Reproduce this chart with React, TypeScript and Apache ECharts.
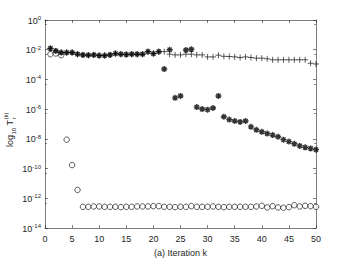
import React, { useEffect, useRef } from 'react';
import * as echarts from 'echarts';

const iterations = [
  1, 2, 3, 4, 5, 6, 7, 8, 9, 10, 11, 12, 13, 14, 15, 16, 17, 18, 19, 20, 21, 22, 23, 24, 25,
  26, 27, 28, 29, 30, 31, 32, 33, 34, 35, 36, 37, 38, 39, 40, 41, 42, 43, 44, 45, 46, 47, 48, 49, 50,
];

const circleValues = [
  5.0e-3, 5.6e-3, 4.3e-3, 8.9e-9, 1.74e-10, 3.7e-12,
  2.7e-13, 2.7e-13, 2.86e-13, 2.86e-13, 2.7e-13, 2.7e-13, 2.7e-13, 2.57e-13, 2.7e-13, 2.7e-13,
  2.86e-13, 2.86e-13, 2.86e-13, 3.0e-13, 3.0e-13, 2.7e-13, 2.7e-13, 2.57e-13, 2.7e-13, 2.7e-13,
  3.0e-13, 2.7e-13, 2.7e-13, 2.7e-13, 2.86e-13, 2.7e-13, 2.57e-13, 2.7e-13, 2.7e-13, 2.7e-13,
  2.7e-13, 2.7e-13, 2.86e-13, 3.16e-13, 2.45e-13, 3.0e-13, 2.45e-13, 2.34e-13, 2.57e-13, 3.47e-13,
  2.86e-13, 3.16e-13, 3.0e-13, 2.7e-13,
];

const starValues = [
  1.23e-2, 8.3e-3, 6.5e-3, 6.5e-3, 6.5e-3, 5.0e-3, 4.5e-3, 4.3e-3, 4.5e-3, 4.1e-3,
  4.1e-3, 4.5e-3, 5.5e-3, 5.0e-3, 4.8e-3, 5.0e-3, 5.0e-3, 5.0e-3, 7.4e-3, 5.5e-3,
  7.4e-3, 5.0e-4, 1.0e-2, 5.8e-6, 7.8e-6, 9.5e-3, 1.07e-2, 1.38e-6, 1.02e-6, 9.3e-7,
  1.2e-6, 7.8e-6, 3.1e-7, 2.0e-7, 1.6e-7, 1.4e-7, 1.6e-7, 6.5e-8, 4.1e-8, 3.0e-8,
  2.3e-8, 1.8e-8, 1.4e-8, 8.9e-9, 6.6e-9, 4.7e-9, 3.4e-9, 2.7e-9, 2.3e-9, 1.9e-9,
];

const plusValues = [
  1.23e-2, 8.3e-3, 6.5e-3, 6.5e-3, 6.5e-3, 5.0e-3, 4.5e-3, 4.3e-3, 4.5e-3, 4.1e-3,
  4.1e-3, 4.5e-3, 5.5e-3, 5.0e-3, 4.8e-3, 5.0e-3, 5.0e-3, 5.0e-3, 7.4e-3, 5.5e-3,
  7.4e-3, 7.4e-3, 5.0e-3, 4.5e-3, 4.5e-3, 5.0e-3, 5.0e-3, 4.5e-3, 4.5e-3, 3.3e-3,
  3.3e-3, 4.3e-3, 3.6e-3, 3.5e-3, 3.3e-3, 3.0e-3, 3.3e-3, 3.0e-3, 2.7e-3, 2.7e-3,
  2.45e-3, 2.1e-3, 2.1e-3, 2.1e-3, 2.1e-3, 2.1e-3, 2.1e-3, 2.1e-3, 1.23e-3, 1.1e-3,
];

const xLabel = '(a) Iteration k';

const FONT = '"Liberation Sans", Arial, Helvetica, sans-serif';
const INK = '#262626';

const asteriskPath =
  'path://M5,0L5,10M0,5L10,5M1.5,1.5L8.5,8.5M1.5,8.5L8.5,1.5';
const plusPath = 'path://M5,0L5,10M0,5L10,5';

export default function App() {
  const ref = useRef<HTMLDivElement>(null);

  useEffect(() => {
    if (!ref.current) return;
    const chart = echarts.init(ref.current, null, { renderer: 'svg' });

    const toPairs = (vals: number[]) => iterations.map((k, i) => [k, vals[i]]);

    const xAxisBase = {
      type: 'value',
      min: 0,
      max: 50,
      interval: 5,
      splitLine: { show: false },
      axisLine: { show: true, onZero: false, lineStyle: { color: INK, width: 0.6 } },
      axisTick: { show: true, inside: true, length: 3, lineStyle: { color: INK, width: 0.6 } },
    };
    const yAxisBase = {
      type: 'log',
      logBase: 10,
      min: 1e-14,
      max: 1,
      interval: 2,
      splitLine: { show: false },
      axisLine: { show: true, onZero: false, lineStyle: { color: INK, width: 0.6 } },
      axisTick: { show: true, inside: true, length: 3, lineStyle: { color: INK, width: 0.6 } },
      minorTick: { show: true, splitNumber: 2, length: 2, lineStyle: { color: INK, width: 0.5 } },
    };

    chart.setOption({
      animation: false,
      backgroundColor: '#ffffff',
      textStyle: { fontFamily: FONT },
      grid: { left: 45, right: 33, top: 20, bottom: 29, containLabel: false },
      xAxis: [
        {
          ...xAxisBase,
          position: 'bottom',
          name: xLabel,
          nameLocation: 'middle',
          nameGap: 19,
          nameTextStyle: { fontSize: 9, color: INK, fontFamily: FONT },
          axisLabel: { fontSize: 9, color: INK, margin: 6, fontFamily: FONT },
        },
        {
          ...xAxisBase,
          position: 'top',
          axisLabel: { show: false },
        },
      ],
      yAxis: [
        {
          ...yAxisBase,
          position: 'left',
          axisLabel: {
            margin: 4,
            color: INK,
            fontFamily: FONT,
            formatter: (v: number) => {
              const e = Math.round(Math.log10(v));
              return `{b|10}{s|${e}}`;
            },
            rich: {
              b: { fontSize: 9, color: INK, fontFamily: FONT, verticalAlign: 'bottom', lineHeight: 10, padding: [4, 0, 0, 0] },
              s: { fontSize: 6, color: INK, fontFamily: FONT, verticalAlign: 'top', lineHeight: 8 },
            },
          },
        },
        {
          ...yAxisBase,
          position: 'right',
          axisLabel: { show: false },
        },
      ],
      graphic: [
        {
          type: 'group',
          x: 14,
          y: 147,
          rotation: Math.PI / 2,
          silent: true,
          children: [
            { type: 'text', x: 0, y: 0, style: { text: 'log', fontSize: 9, fontFamily: FONT, fill: INK, textVerticalAlign: 'bottom' } },
            { type: 'text', x: 12.5, y: 2.5, style: { text: '10', fontSize: 6, fontFamily: FONT, fill: INK, textVerticalAlign: 'bottom' } },
            { type: 'text', x: 21.5, y: 0, style: { text: 'T', fontSize: 9, fontFamily: FONT, fill: INK, textVerticalAlign: 'bottom' } },
            { type: 'text', x: 27.5, y: -5, style: { text: '(k)', fontSize: 6, fontFamily: FONT, fill: INK, textVerticalAlign: 'bottom' } },
            { type: 'text', x: 27.5, y: 2.5, style: { text: 'r', fontSize: 6, fontFamily: FONT, fill: INK, textVerticalAlign: 'bottom' } },
          ],
        },
      ],
      series: [
        {
          type: 'scatter',
          name: 'plus',
          xAxisIndex: 0,
          yAxisIndex: 0,
          data: toPairs(plusValues),
          symbol: plusPath,
          symbolSize: 6,
          itemStyle: { color: '#000', borderColor: '#000', borderWidth: 0.8 },
          z: 2,
        },
        {
          type: 'scatter',
          name: 'circle',
          xAxisIndex: 0,
          yAxisIndex: 0,
          data: toPairs(circleValues),
          symbol: 'circle',
          symbolSize: 5.5,
          itemStyle: { color: '#fff', borderColor: '#000', borderWidth: 0.8 },
          z: 3,
        },
        {
          type: 'scatter',
          name: 'star',
          xAxisIndex: 0,
          yAxisIndex: 0,
          data: toPairs(starValues),
          symbol: asteriskPath,
          symbolSize: 6,
          itemStyle: { color: '#000', borderColor: '#000', borderWidth: 1.4 },
          z: 4,
        },
      ],
    });

    return () => chart.dispose();
  }, []);

  return (
    <div
      ref={ref}
      style={{ position: 'fixed', left: 0, top: 0, width: 349, height: 262, background: '#fff' }}
    />
  );
}
